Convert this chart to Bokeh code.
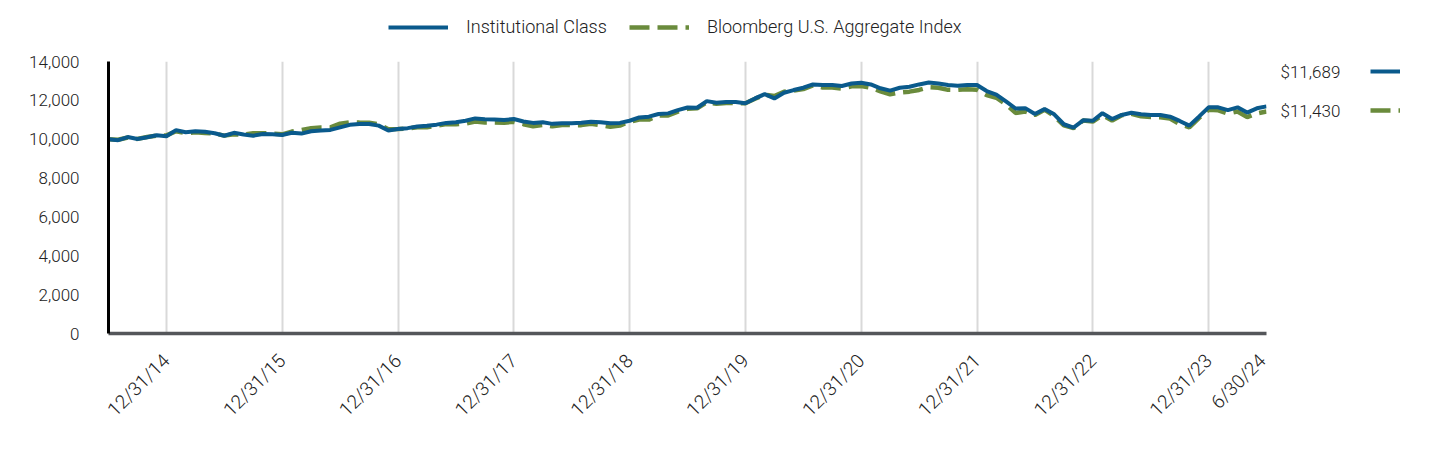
import math
from bokeh.plotting import figure
from bokeh.layouts import column, row
from bokeh.models import (FixedTicker, Legend, LegendItem, NumeralTickFormatter, Range1d)
from bokeh.core.properties import value
from bokeh.embed import file_html
from bokeh.resources import INLINE

# ---- data (month index 0 = 6/30/14 ... 120 = 6/30/24) ----
months = list(range(121))

institutional = [
    10000, 9950, 10110, 10010, 10100, 10200, 10150,
    10470, 10360, 10410, 10380, 10310, 10180, 10330, 10240, 10180, 10270, 10260, 10220,
    10330, 10290, 10410, 10450, 10480, 10610, 10740, 10780, 10780, 10700, 10450, 10530,
    10570, 10650, 10690, 10750, 10840, 10870, 10950, 11070, 11030, 11010, 10990, 11040,
    10910, 10840, 10870, 10790, 10820, 10820, 10850, 10900, 10870, 10820, 10840, 10950,
    11120, 11160, 11300, 11330, 11500, 11630, 11620, 11960, 11880, 11910, 11910, 11850,
    12100, 12320, 12100, 12390, 12530, 12650, 12820, 12790, 12790, 12740, 12870, 12910,
    12820, 12620, 12500, 12650, 12700, 12820, 12920, 12870, 12790, 12750, 12790, 12790,
    12480, 12300, 11950, 11580, 11600, 11300, 11560, 11280, 10770, 10600, 10970, 10950,
    11340, 11040, 11250, 11360, 11280, 11250, 11250, 11160, 10940, 10700, 11160, 11640,
    11640, 11500, 11640, 11370, 11590, 11689,
]

bloomberg_agg = [
    10000, 9975, 10085, 10016, 10114, 10186, 10195,
    10409, 10311, 10358, 10321, 10296, 10184, 10255, 10241, 10311, 10313, 10286, 10253,
    10394, 10468, 10564, 10604, 10607, 10798, 10866, 10854, 10847, 10765, 10510, 10525,
    10546, 10617, 10612, 10694, 10776, 10765, 10811, 10908, 10856, 10863, 10849, 10899,
    10774, 10671, 10740, 10660, 10736, 10723, 10725, 10794, 10725, 10640, 10704, 10901,
    11016, 11009, 11221, 11224, 11424, 11568, 11593, 11893, 11830, 11866, 11860, 11852,
    12080, 12297, 12224, 12442, 12500, 12579, 12766, 12663, 12657, 12600, 12723, 12741,
    12649, 12467, 12311, 12408, 12449, 12536, 12676, 12652, 12542, 12538, 12576, 12543,
    12273, 12136, 11799, 11352, 11425, 11246, 11520, 11194, 10710, 10571, 10960, 10911,
    11247, 10956, 11234, 11303, 11180, 11140, 11132, 11061, 10780, 10610, 11091, 11516,
    11485, 11323, 11427, 11138, 11327, 11430,
]

tick_positions = [6, 18, 30, 42, 54, 66, 78, 90, 102, 114, 120]
tick_labels = ["12/31/14", "12/31/15", "12/31/16", "12/31/17", "12/31/18", "12/31/19",
               "12/31/20", "12/31/21", "12/31/22", "12/31/23", "6/30/24"]
y_ticks = [0, 2000, 4000, 6000, 8000, 10000, 12000, 14000]
series_names = ["Institutional Class", "Bloomberg U.S. Aggregate Index"]
end_labels = ["$11,689", "$11,430"]

BLUE = "#0A5A8C"
GREEN = "#6A8B3C"
FONT = "Roboto Light, Roboto"
TXT = "#222222"
DASH = "20 8"

TOP_H = 48
MAIN_H = 392
FRAME_H = 272
BORDER_TOP = 13
BORDER_BOTTOM = MAIN_H - FRAME_H - BORDER_TOP


def bare(fig):
    fig.outline_line_color = None
    fig.xaxis.visible = False
    fig.yaxis.visible = False
    fig.xgrid.grid_line_color = None
    fig.ygrid.grid_line_color = None


# legend-only proxy renderers: kept outside the visible ranges
PROXY_X = [-50, -40]
PROXY_Y = [-50, -50]

# ---- top legend strip ----
top = figure(width=1424, height=TOP_H, output_backend="svg", toolbar_location=None,
             x_range=Range1d(0, 1424), y_range=Range1d(0, TOP_H),
             min_border_left=0, min_border_right=0, min_border_top=0, min_border_bottom=0)
bare(top)
tb = top.line(x=PROXY_X, y=PROXY_Y, line_color=BLUE, line_width=4)
tg = top.line(x=PROXY_X, y=PROXY_Y, line_color=GREEN, line_width=4.5, line_dash=DASH)
top_legend = Legend(items=[LegendItem(label=series_names[0], renderers=[tb]),
                           LegendItem(label=series_names[1], renderers=[tg])],
                    orientation="horizontal", location=(388, 11),
                    glyph_width=60, glyph_height=20, label_height=20,
                    label_standoff=18, spacing=22, padding=0, margin=0,
                    border_line_color=None, background_fill_alpha=0,
                    label_text_font=FONT, label_text_font_size="18px",
                    label_text_color=TXT)
top.add_layout(top_legend, "center")

# ---- main chart ----
p = figure(width=1270, height=MAIN_H, output_backend="svg", toolbar_location=None,
           x_range=Range1d(0, 120), y_range=Range1d(0, 14000),
           min_border_left=108, min_border_right=4,
           min_border_top=BORDER_TOP, min_border_bottom=BORDER_BOTTOM)
p.outline_line_color = None

p.line(months, bloomberg_agg, line_color=GREEN, line_width=4.5, line_dash=DASH)
p.line(months, institutional, line_color=BLUE, line_width=4)

p.xaxis.ticker = FixedTicker(ticks=tick_positions)
p.xaxis.major_label_overrides = {t: l for t, l in zip(tick_positions, tick_labels)}
p.xaxis.major_label_orientation = math.pi / 4
p.xaxis.axis_line_color = "#54565a"
p.xaxis.axis_line_width = 3.5
p.xaxis.major_tick_line_color = None
p.xaxis.minor_tick_line_color = None
p.xaxis.major_label_text_font = FONT
p.xaxis.major_label_text_font_size = "19px"
p.xaxis.major_label_text_color = TXT
p.xaxis.major_label_standoff = 18

p.yaxis.ticker = FixedTicker(ticks=y_ticks)
p.yaxis.formatter = NumeralTickFormatter(format="0,0")
p.yaxis.axis_line_color = "black"
p.yaxis.axis_line_width = 3
p.yaxis.major_tick_line_color = None
p.yaxis.minor_tick_line_color = None
p.yaxis.major_label_text_font = FONT
p.yaxis.major_label_text_font_size = "17px"
p.yaxis.major_label_text_color = TXT
p.yaxis.major_label_standoff = 23

p.xgrid.grid_line_color = "#d9d9d9"
p.xgrid.grid_line_width = 2
p.ygrid.grid_line_color = None

# ---- right-side ending values ----
side = figure(width=154, height=MAIN_H, output_backend="svg", toolbar_location=None,
              x_range=Range1d(0, 154), y_range=Range1d(0, FRAME_H),
              min_border_left=0, min_border_right=0,
              min_border_top=BORDER_TOP, min_border_bottom=BORDER_BOTTOM)
bare(side)
sb = side.line(x=PROXY_X, y=PROXY_Y, line_color=BLUE, line_width=4)
sg = side.line(x=PROXY_X, y=PROXY_Y, line_color=GREEN, line_width=4.5, line_dash=DASH)
end_legend = Legend(items=[LegendItem(label=" ", renderers=[sb]),
                           LegendItem(label=" ", renderers=[sg])],
                    orientation="vertical", location=(100, 213),
                    glyph_width=30, glyph_height=20, label_height=20,
                    label_standoff=0, spacing=19, padding=0, margin=0,
                    border_line_color=None, background_fill_alpha=0,
                    label_text_font_size="1px")
side.add_layout(end_legend, "center")
side.text(x=[10, 10], y=[262, 223], text=end_labels,
          text_font=value(FONT), text_font_size="17px", text_color=TXT,
          text_baseline="middle", text_align="left")

layout = column(top, row(p, side, spacing=0), spacing=0)
open("out.html", "w").write(file_html(layout, INLINE))
